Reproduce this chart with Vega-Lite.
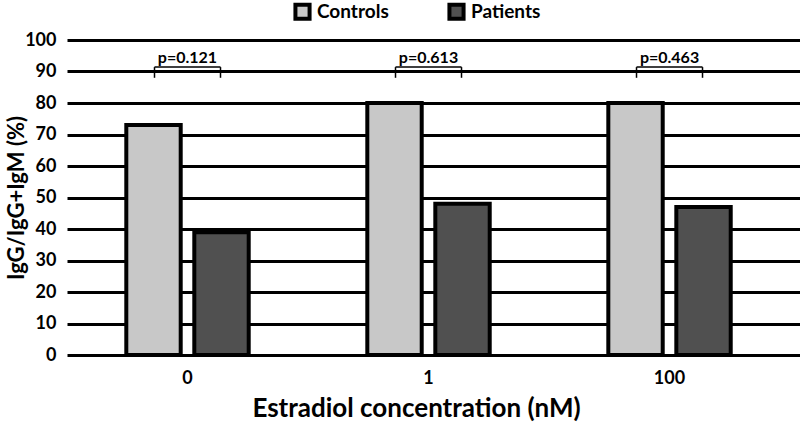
{
  "$schema": "https://vega.github.io/schema/vega-lite/v6.json",
  "autosize": "none",
  "width": 733,
  "height": 315,
  "padding": {"left": 67, "top": 40, "right": 0, "bottom": 68},
  "background": "white",
  "config": {
    "font": "Lato",
    "view": {"stroke": null},
    "axis": {"labelFont": "Lato", "titleFont": "Lato", "labelFontWeight": "bold", "titleFontWeight": "bold", "labelColor": "black", "titleColor": "black"}
  },
  "datasets": {
    "bars": [
      {"conc": "0", "group": "Controls", "value": 73},
      {"conc": "0", "group": "Patients", "value": 39},
      {"conc": "1", "group": "Controls", "value": 80},
      {"conc": "1", "group": "Patients", "value": 48},
      {"conc": "100", "group": "Controls", "value": 80},
      {"conc": "100", "group": "Patients", "value": 47}
    ],
    "pvals": [
      {"conc": "0", "p": "p=0.121", "hi": 91.4, "lo": 88},
      {"conc": "1", "p": "p=0.613", "hi": 91.4, "lo": 88},
      {"conc": "100", "p": "p=0.463", "hi": 91.4, "lo": 88}
    ]
  },
  "resolve": {"axis": {"y": "shared"}},
  "encoding": {
    "x": {
      "field": "conc", "type": "nominal", "sort": ["0", "1", "100"],
      "scale": {"paddingInner": 0, "paddingOuter": 0.0207, "align": 0},
      "axis": {"title": "Estradiol concentration (nM)", "labelAngle": 0, "labelFontSize": 18, "titleFontSize": 26, "titleX": 349, "labelPadding": 14, "titlePadding": 8, "domain": false, "ticks": false, "grid": false}
    },
    "y": {
      "field": "value", "type": "quantitative",
      "scale": {"domain": [0, 100], "nice": false},
      "axis": {"title": "IgG/IgG+IgM (%)", "values": [0,10,20,30,40,50,60,70,80,90,100], "labelFontSize": 18, "titleFontSize": 22, "labelPadding": 11, "titlePadding": -4, "domain": false, "ticks": false, "grid": true, "gridColor": "black", "gridWidth": 3, "gridOpacity": 1}
    }
  },
  "layer": [
    {
      "data": {"name": "bars"},
      "mark": {"type": "bar", "stroke": "black", "strokeWidth": 4},
      "encoding": {
        "xOffset": {"field": "group", "type": "nominal", "scale": {"paddingInner": 0.2, "paddingOuter": 0.872}},
        "color": {
          "field": "group", "type": "nominal",
          "scale": {"domain": ["Controls", "Patients"], "range": ["#c8c8c8", "#505050"]},
          "legend": {"title": null, "orient": "none", "direction": "horizontal", "legendX": 226, "legendY": -38, "symbolType": "square", "symbolSize": 200, "symbolStrokeColor": "black", "symbolStrokeWidth": 4, "symbolOpacity": 1, "labelFontSize": 19, "labelFontWeight": "bold", "labelColor": "black", "labelFont": "Lato", "columnPadding": 52, "labelOffset": 5}
        }
      }
    },
    {
      "data": {"name": "pvals"},
      "mark": {"type": "rule", "color": "black", "strokeWidth": 1.5, "xOffset": -33, "x2Offset": 33},
      "encoding": {"x2": {"field": "conc"}, "y": {"field": "hi", "type": "quantitative"}}
    },
    {
      "data": {"name": "pvals"},
      "mark": {"type": "rule", "color": "black", "strokeWidth": 1.5, "xOffset": -33},
      "encoding": {"y": {"field": "hi", "type": "quantitative"}, "y2": {"field": "lo"}}
    },
    {
      "data": {"name": "pvals"},
      "mark": {"type": "rule", "color": "black", "strokeWidth": 1.5, "xOffset": 33},
      "encoding": {"y": {"field": "hi", "type": "quantitative"}, "y2": {"field": "lo"}}
    },
    {
      "data": {"name": "pvals"},
      "mark": {"type": "text", "baseline": "bottom", "fontSize": 16, "fontWeight": "bold", "font": "Lato", "color": "black", "dy": -1},
      "encoding": {"y": {"field": "hi", "type": "quantitative"}, "text": {"field": "p"}}
    }
  ]
}
